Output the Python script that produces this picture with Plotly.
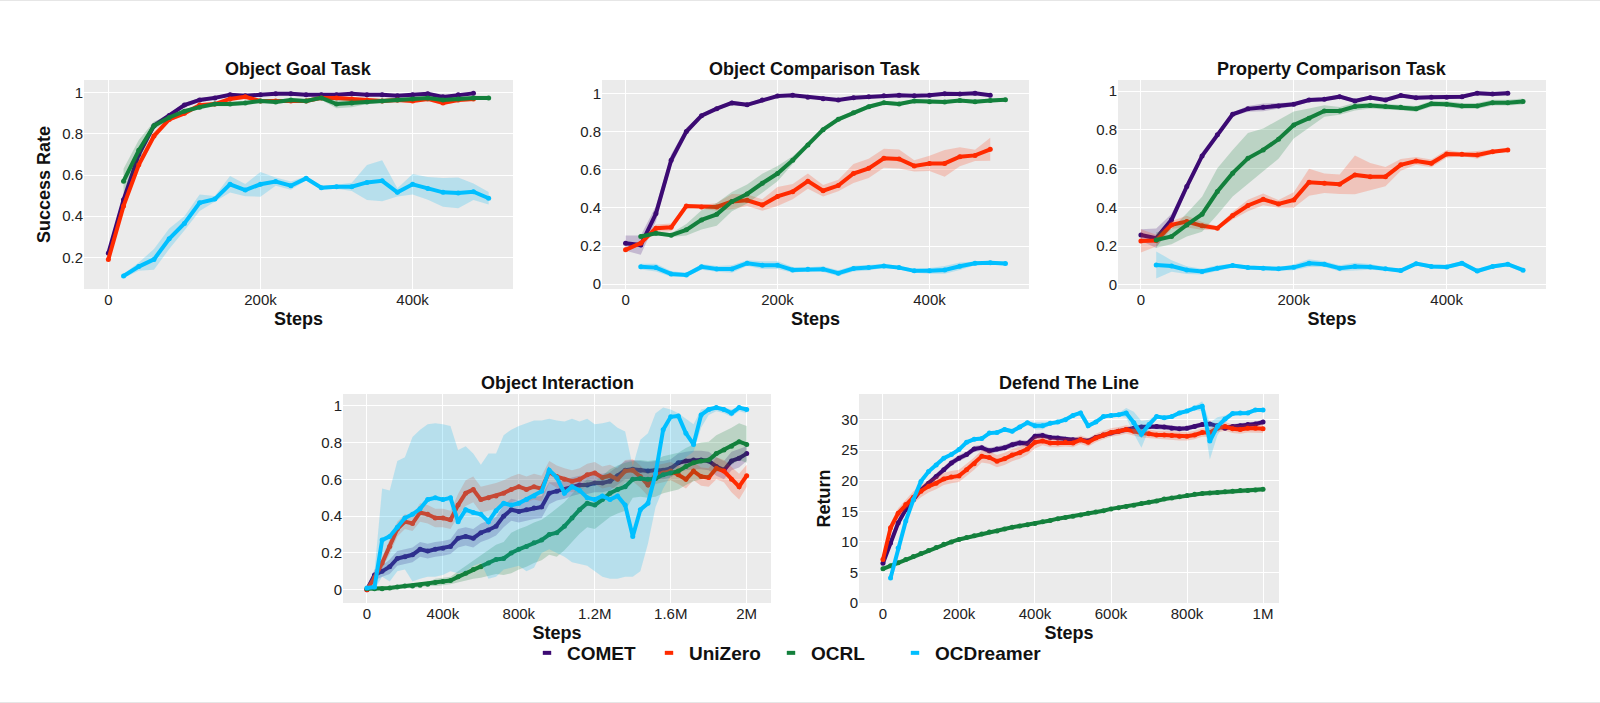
import plotly.graph_objects as go

# ---------------- data ----------------
SERIES = ["COMET", "UniZero", "OCRL", "OCDreamer"]
COLORS = {"COMET": "#3C0A73", "UniZero": "#FF2A00", "OCRL": "#13803C", "OCDreamer": "#00BFFF"}
FILLS = {"COMET": "rgba(60,10,115,0.22)", "UniZero": "rgba(255,60,20,0.22)",
         "OCRL": "rgba(19,128,60,0.22)", "OCDreamer": "rgba(0,180,240,0.22)"}

# top row: steps every 20k
steps_a = [0, 20000, 40000, 60000, 80000, 100000, 120000, 140000, 160000, 180000, 200000, 220000,
           240000, 260000, 280000, 300000, 320000, 340000, 360000, 380000, 400000, 420000, 440000,
           460000, 480000]
steps_b = [20000, 40000, 60000, 80000, 100000, 120000, 140000, 160000, 180000, 200000, 220000,
           240000, 260000, 280000, 300000, 320000, 340000, 360000, 380000, 400000, 420000, 440000,
           460000, 480000, 500000]

# Object Goal Task
og_comet = [0.22, 0.48, 0.70, 0.84, 0.89, 0.94, 0.965, 0.975, 0.99, 0.985, 0.99, 0.995, 0.995, 0.99, 0.99,
            0.99, 0.995, 0.99, 0.99, 0.985, 0.99, 0.995, 0.98, 0.99, 0.997]
og_comet_sd = [0.01, 0.02, 0.02, 0.015, 0.01, 0.01, 0.01, 0.01, 0.005, 0.005, 0.005, 0.005, 0.005, 0.005,
               0.005, 0.005, 0.005, 0.005, 0.005, 0.005, 0.005, 0.005, 0.005, 0.005, 0.005]
og_uni = [0.19, 0.45, 0.65, 0.79, 0.87, 0.90, 0.94, 0.945, 0.97, 0.98, 0.96, 0.96, 0.96, 0.96, 0.975,
          0.975, 0.97, 0.965, 0.96, 0.965, 0.96, 0.97, 0.95, 0.965, 0.97]
og_uni_sd = [0.01, 0.02, 0.02, 0.02, 0.01, 0.01, 0.01, 0.01, 0.01, 0.01, 0.01, 0.01, 0.01, 0.01, 0.01,
             0.01, 0.01, 0.01, 0.01, 0.01, 0.01, 0.01, 0.01, 0.01, 0.01]
og_ocrl = [0.57, 0.72, 0.84, 0.88, 0.91, 0.93, 0.945, 0.945, 0.95, 0.96, 0.955, 0.965, 0.96, 0.975, 0.945,
           0.95, 0.955, 0.96, 0.965, 0.97, 0.975, 0.965, 0.97, 0.975, 0.975]
og_ocrl_sd = [0.06, 0.05, 0.02, 0.01, 0.01, 0.01, 0.01, 0.01, 0.01, 0.01, 0.01, 0.01, 0.01, 0.01, 0.02,
              0.02, 0.01, 0.01, 0.01, 0.01, 0.01, 0.01, 0.01, 0.01, 0.01]
og_ocd = [0.109, 0.155, 0.19, 0.29, 0.365, 0.465, 0.483, 0.555, 0.527, 0.555, 0.568, 0.548, 0.584, 0.538,
          0.543, 0.543, 0.564, 0.572, 0.516, 0.555, 0.535, 0.516, 0.513, 0.519, 0.487]
og_ocd_sd = [0.01, 0.02, 0.05, 0.05, 0.035, 0.04, 0.015, 0.04, 0.03, 0.06, 0.02, 0.02, 0.01, 0.01, 0.01,
             0.02, 0.085, 0.10, 0.02, 0.05, 0.055, 0.07, 0.075, 0.04, 0.03]

# Object Comparison Task
oc_comet = [0.215, 0.205, 0.37, 0.65, 0.80, 0.883, 0.92, 0.95, 0.94, 0.965, 0.986, 0.99, 0.98, 0.972,
            0.965, 0.977, 0.982, 0.988, 0.99, 0.988, 0.99, 0.998, 0.996, 1.0, 0.99]
oc_comet_sd = [0.04, 0.05, 0.04, 0.03, 0.02, 0.01, 0.01, 0.01, 0.01, 0.01, 0.005, 0.005, 0.005, 0.005,
               0.005, 0.005, 0.005, 0.005, 0.005, 0.005, 0.005, 0.005, 0.005, 0.005, 0.005]
oc_uni = [0.18, 0.215, 0.293, 0.298, 0.41, 0.405, 0.405, 0.433, 0.44, 0.415, 0.46, 0.485, 0.54, 0.49,
          0.517, 0.58, 0.607, 0.66, 0.656, 0.62, 0.633, 0.633, 0.668, 0.675, 0.707]
oc_uni_sd = [0.01, 0.01, 0.02, 0.02, 0.01, 0.01, 0.02, 0.04, 0.03, 0.03, 0.05, 0.04, 0.04, 0.03, 0.03,
             0.05, 0.05, 0.05, 0.05, 0.03, 0.04, 0.07, 0.05, 0.03, 0.06]
oc_ocrl = [0.25, 0.267, 0.257, 0.285, 0.337, 0.366, 0.433, 0.473, 0.529, 0.58, 0.65, 0.73, 0.81, 0.864,
           0.899, 0.93, 0.951, 0.944, 0.96, 0.956, 0.955, 0.962, 0.956, 0.962, 0.967]
oc_ocrl_sd = [0.01, 0.01, 0.01, 0.03, 0.05, 0.06, 0.05, 0.05, 0.05, 0.04, 0.02, 0.01, 0.01, 0.01, 0.01,
              0.01, 0.01, 0.01, 0.01, 0.01, 0.01, 0.01, 0.01, 0.01, 0.01]
oc_ocd = [0.092, 0.087, 0.054, 0.049, 0.091, 0.08, 0.08, 0.11, 0.1, 0.1, 0.075, 0.079, 0.079, 0.058,
          0.082, 0.087, 0.096, 0.087, 0.07, 0.07, 0.075, 0.094, 0.11, 0.113, 0.108]
oc_ocd_sd = [0.015, 0.02, 0.015, 0.01, 0.015, 0.015, 0.02, 0.015, 0.02, 0.02, 0.015, 0.01, 0.015, 0.015,
             0.015, 0.015, 0.01, 0.01, 0.01, 0.015, 0.02, 0.02, 0.01, 0.01, 0.01]

# Property Comparison Task
pc_comet = [0.258, 0.241, 0.336, 0.508, 0.666, 0.775, 0.881, 0.909, 0.917, 0.924, 0.933, 0.955, 0.959,
            0.972, 0.95, 0.967, 0.955, 0.978, 0.967, 0.969, 0.969, 0.972, 0.99, 0.986, 0.99]
pc_comet_sd = [0.03, 0.05, 0.03, 0.02, 0.02, 0.015, 0.01, 0.015, 0.02, 0.015, 0.01, 0.01, 0.01, 0.01,
               0.01, 0.01, 0.01, 0.01, 0.01, 0.01, 0.01, 0.01, 0.01, 0.01, 0.01]
pc_uni = [0.227, 0.229, 0.31, 0.327, 0.305, 0.293, 0.358, 0.41, 0.442, 0.418, 0.439, 0.53, 0.525, 0.52,
          0.568, 0.559, 0.559, 0.62, 0.64, 0.628, 0.676, 0.675, 0.671, 0.688, 0.697]
pc_uni_sd = [0.06, 0.03, 0.02, 0.03, 0.02, 0.01, 0.02, 0.03, 0.03, 0.02, 0.04, 0.07, 0.05, 0.05, 0.1,
             0.07, 0.05, 0.03, 0.02, 0.02, 0.02, 0.01, 0.02, 0.01, 0.01]
pc_ocrl = [0.232, 0.25, 0.31, 0.365, 0.482, 0.577, 0.654, 0.697, 0.752, 0.826, 0.861, 0.898, 0.898, 0.921,
           0.926, 0.921, 0.917, 0.909, 0.935, 0.933, 0.924, 0.924, 0.941, 0.941, 0.947]
pc_ocrl_sd = [0.04, 0.04, 0.06, 0.09, 0.12, 0.12, 0.13, 0.11, 0.1, 0.07, 0.05, 0.03, 0.02, 0.02, 0.015,
              0.015, 0.015, 0.015, 0.015, 0.015, 0.015, 0.015, 0.015, 0.015, 0.015]
pc_ocd = [0.103, 0.098, 0.077, 0.069, 0.086, 0.1, 0.09, 0.086, 0.083, 0.091, 0.112, 0.107, 0.086, 0.095,
          0.093, 0.083, 0.074, 0.11, 0.095, 0.093, 0.112, 0.072, 0.095, 0.107, 0.076]
pc_ocd_sd = [0.07, 0.03, 0.02, 0.015, 0.015, 0.01, 0.01, 0.01, 0.01, 0.015, 0.02, 0.015, 0.015, 0.02,
             0.015, 0.01, 0.01, 0.01, 0.01, 0.01, 0.01, 0.01, 0.01, 0.01, 0.01]

# Object Interaction: steps every 40k up to 2M
steps_oi = [0, 40000, 80000, 120000, 160000, 200000, 240000, 280000, 320000, 360000, 400000, 440000,
            480000, 520000, 560000, 600000, 640000, 680000, 720000, 760000, 800000, 840000, 880000,
            920000, 960000, 1000000, 1040000, 1080000, 1120000, 1160000, 1200000, 1240000, 1280000,
            1320000, 1360000, 1400000, 1440000, 1480000, 1520000, 1560000, 1600000, 1640000, 1680000,
            1720000, 1760000, 1800000, 1840000, 1880000, 1920000, 1960000, 2000000]
oi_comet = [0.0, 0.08, 0.10, 0.125, 0.17, 0.18, 0.19, 0.22, 0.21, 0.22, 0.225, 0.235, 0.28, 0.29, 0.28,
            0.31, 0.325, 0.345, 0.40, 0.435, 0.425, 0.435, 0.445, 0.45, 0.525, 0.535, 0.545, 0.56, 0.57,
            0.57, 0.58, 0.58, 0.59, 0.62, 0.65, 0.655, 0.65, 0.645, 0.65, 0.65, 0.66, 0.69, 0.70, 0.705,
            0.705, 0.70, 0.67, 0.65, 0.70, 0.715, 0.74]
oi_comet_sd = [0.0, 0.03, 0.03, 0.04, 0.04, 0.04, 0.04, 0.04, 0.04, 0.04, 0.04, 0.04, 0.05, 0.05, 0.05,
               0.05, 0.05, 0.05, 0.06, 0.06, 0.06, 0.06, 0.06, 0.06, 0.06, 0.05, 0.05, 0.05, 0.05, 0.05,
               0.05, 0.05, 0.05, 0.05, 0.05, 0.05, 0.05, 0.05, 0.05, 0.05, 0.05, 0.05, 0.05, 0.05, 0.05,
               0.05, 0.05, 0.05, 0.05, 0.05, 0.04]
oi_uni = [0.0, 0.065, 0.145, 0.235, 0.33, 0.37, 0.36, 0.42, 0.41, 0.39, 0.39, 0.38, 0.46, 0.525, 0.545,
          0.49, 0.50, 0.51, 0.525, 0.545, 0.56, 0.545, 0.56, 0.55, 0.64, 0.615, 0.60, 0.59, 0.60, 0.625,
          0.635, 0.61, 0.62, 0.60, 0.645, 0.65, 0.615, 0.57, 0.625, 0.635, 0.645, 0.625, 0.60, 0.645,
          0.615, 0.61, 0.66, 0.645, 0.60, 0.56, 0.62]
oi_uni_sd = [0.0, 0.02, 0.03, 0.04, 0.04, 0.04, 0.04, 0.05, 0.05, 0.05, 0.05, 0.05, 0.06, 0.07, 0.07,
             0.07, 0.07, 0.07, 0.07, 0.07, 0.07, 0.07, 0.07, 0.07, 0.06, 0.06, 0.06, 0.06, 0.06, 0.06,
             0.06, 0.06, 0.06, 0.06, 0.06, 0.06, 0.06, 0.06, 0.05, 0.05, 0.05, 0.05, 0.05, 0.05, 0.05,
             0.05, 0.06, 0.06, 0.07, 0.07, 0.06]
oi_ocrl = [0.005, 0.005, 0.005, 0.01, 0.015, 0.02, 0.02, 0.025, 0.03, 0.04, 0.045, 0.05, 0.07, 0.09, 0.11,
           0.125, 0.145, 0.165, 0.17, 0.20, 0.22, 0.235, 0.255, 0.27, 0.30, 0.31, 0.345, 0.39, 0.435,
           0.47, 0.46, 0.49, 0.525, 0.545, 0.56, 0.60, 0.605, 0.60, 0.605, 0.625, 0.635, 0.645, 0.67,
           0.69, 0.70, 0.705, 0.74, 0.76, 0.78, 0.805, 0.79]
oi_ocrl_sd = [0.01, 0.01, 0.01, 0.01, 0.01, 0.01, 0.01, 0.01, 0.01, 0.02, 0.02, 0.02, 0.03, 0.04, 0.05,
              0.06, 0.07, 0.08, 0.09, 0.11, 0.11, 0.11, 0.11, 0.11, 0.11, 0.13, 0.13, 0.13, 0.13, 0.13,
              0.13, 0.13, 0.13, 0.13, 0.13, 0.10, 0.10, 0.10, 0.10, 0.10, 0.10, 0.10, 0.10, 0.10, 0.10,
              0.10, 0.10, 0.10, 0.10, 0.10, 0.10]
oi_ocd = [0.01, 0.015, 0.27, 0.29, 0.34, 0.39, 0.41, 0.44, 0.49, 0.50, 0.49, 0.50, 0.37, 0.435, 0.42, 0.41,
          0.37, 0.43, 0.47, 0.46, 0.47, 0.49, 0.51, 0.535, 0.65, 0.61, 0.525, 0.56, 0.54, 0.50, 0.49, 0.51,
          0.49, 0.51, 0.46, 0.29, 0.435, 0.47, 0.63, 0.87, 0.94, 0.945, 0.85, 0.79, 0.95, 0.98, 0.99,
          0.98, 0.96, 0.99, 0.98]
oi_ocd_hi = [0.02, 0.10, 0.55, 0.54, 0.70, 0.72, 0.83, 0.87, 0.90, 0.905, 0.90, 0.89, 0.76, 0.78, 0.74,
             0.68, 0.74, 0.74, 0.84, 0.87, 0.89, 0.905, 0.92, 0.92, 0.93, 0.92, 0.915, 0.93, 0.915, 0.93,
             0.90, 0.905, 0.915, 0.88, 0.86, 0.67, 0.815, 0.85, 0.96, 0.99, 0.98, 0.96, 0.93, 0.90, 0.98,
             0.99, 0.995, 0.99, 0.98, 0.995, 0.99]
oi_ocd_lo = [0.0, 0.0, 0.07, 0.045, 0.10, 0.11, 0.045, 0.06, 0.07, 0.07, 0.08, 0.10, 0.09, 0.10, 0.13,
             0.145, 0.06, 0.07, 0.11, 0.12, 0.13, 0.10, 0.12, 0.20, 0.22, 0.20, 0.18, 0.15, 0.14, 0.13,
             0.10, 0.07, 0.06, 0.06, 0.07, 0.07, 0.10, 0.25, 0.45, 0.55, 0.62, 0.68, 0.72, 0.75, 0.88,
             0.95, 0.97, 0.96, 0.94, 0.97, 0.96]

# Defend The Line: steps every 20k up to 1M
steps_dl = [0, 20000, 40000, 60000, 80000, 100000, 120000, 140000, 160000, 180000, 200000, 220000,
            240000, 260000, 280000, 300000, 320000, 340000, 360000, 380000, 400000, 420000, 440000,
            460000, 480000, 500000, 520000, 540000, 560000, 580000, 600000, 620000, 640000, 660000,
            680000, 700000, 720000, 740000, 760000, 780000, 800000, 820000, 840000, 860000, 880000,
            900000, 920000, 940000, 960000, 980000, 1000000]
steps_dl_ocd = steps_dl[1:]
dl_comet = [6.5, 9.8, 13.1, 15.3, 16.9, 18.5, 19.6, 20.7, 21.8, 22.9, 23.7, 24.3, 25.2, 25.4, 24.9, 25.2,
            25.4, 25.9, 26.2, 26.1, 27.3, 27.4, 27.1, 27.0, 26.8, 26.7, 26.7, 26.5, 27.1, 27.5, 27.8, 28.1,
            28.4, 28.6, 28.8, 28.9, 28.9, 28.8, 28.6, 28.5, 28.6, 28.9, 29.2, 29.3, 29.0, 28.6, 28.9, 29.0,
            29.2, 29.3, 29.6]
dl_comet_sd = [0.5, 0.6, 0.6, 0.6, 0.5, 0.5, 0.5, 0.5, 0.5, 0.5, 0.5, 0.5, 0.5, 0.5, 0.5, 0.5, 0.5, 0.5,
               0.5, 0.5, 0.5, 0.5, 0.4, 0.4, 0.4, 0.4, 0.4, 0.4, 0.4, 0.4, 0.4, 0.4, 0.4, 0.4, 0.4, 0.4,
               0.4, 0.4, 0.4, 0.4, 0.4, 0.4, 0.4, 0.4, 0.4, 0.4, 0.4, 0.4, 0.4, 0.4, 0.4]
dl_uni = [7.1, 12.3, 14.7, 16.1, 17.3, 18.3, 19.1, 19.6, 20.3, 20.6, 20.8, 21.8, 22.8, 24.0, 23.8, 23.2,
          23.6, 24.2, 24.6, 25.2, 26.3, 26.5, 26.2, 26.2, 26.3, 26.2, 26.7, 26.3, 27.0, 27.5, 27.9, 28.1,
          28.4, 28.1, 27.8, 27.7, 27.5, 27.5, 27.4, 27.3, 27.3, 27.5, 27.9, 27.9, 28.6, 28.9, 28.5, 28.4,
          28.6, 28.6, 28.5]
dl_uni_sd = [0.5, 0.8, 0.8, 0.8, 1.0, 1.0, 1.0, 1.0, 1.0, 1.0, 1.0, 1.0, 1.0, 1.0, 1.0, 1.0, 1.0, 1.0, 1.0,
             1.0, 1.0, 0.7, 0.7, 0.7, 0.7, 0.7, 0.7, 0.7, 0.7, 0.7, 0.7, 0.7, 0.7, 0.7, 0.7, 0.7, 0.7,
             0.7, 0.7, 0.7, 0.7, 0.7, 0.7, 0.7, 0.7, 0.7, 0.7, 0.7, 0.7, 0.7, 0.7]
dl_ocrl = [5.6, 6.1, 6.6, 7.1, 7.6, 8.1, 8.6, 9.1, 9.6, 10.0, 10.4, 10.7, 11.0, 11.3, 11.6, 11.8, 12.1,
           12.4, 12.6, 12.8, 13.0, 13.3, 13.5, 13.8, 14.0, 14.2, 14.4, 14.7, 14.9, 15.1, 15.4, 15.6, 15.8,
           16.0, 16.3, 16.5, 16.7, 17.0, 17.2, 17.4, 17.6, 17.8, 17.9, 18.0, 18.1, 18.2, 18.3, 18.4, 18.4,
           18.5, 18.6]
dl_ocrl_sd = [0.2, 0.2, 0.2, 0.2, 0.2, 0.2, 0.2, 0.2, 0.2, 0.2, 0.2, 0.2, 0.2, 0.2, 0.2, 0.2, 0.2, 0.2,
              0.2, 0.2, 0.2, 0.2, 0.2, 0.2, 0.2, 0.2, 0.2, 0.2, 0.2, 0.2, 0.2, 0.2, 0.2, 0.2, 0.2, 0.3,
              0.3, 0.3, 0.3, 0.3, 0.3, 0.3, 0.4, 0.4, 0.4, 0.4, 0.4, 0.4, 0.4, 0.4, 0.4]
dl_ocd = [4.1, 9.0, 13.4, 16.9, 19.9, 21.5, 22.6, 23.7, 24.3, 25.1, 26.3, 26.8, 26.9, 27.8, 27.9, 28.4,
          28.1, 28.8, 29.5, 29.0, 29.0, 29.4, 29.6, 30.0, 30.7, 31.1, 29.0, 29.6, 30.5, 30.7, 30.8, 31.1,
          29.5, 27.6, 29.2, 30.5, 30.3, 30.5, 31.1, 31.4, 31.9, 32.2, 26.5, 28.9, 30.1, 31.0, 31.1, 31.1,
          31.6, 31.6]
dl_ocd_sd = [0.2, 0.3, 0.4, 0.4, 0.3, 0.3, 0.3, 0.3, 0.3, 0.3, 0.3, 0.3, 0.3, 0.3, 0.3, 0.3, 0.3, 0.3,
             0.3, 0.6, 0.6, 0.3, 0.3, 0.3, 0.3, 0.3, 0.3, 0.3, 0.3, 0.3, 0.3, 0.8, 1.8, 2.2, 0.8, 0.3,
             0.3, 0.3, 0.3, 0.3, 0.3, 0.8, 3.0, 1.5, 0.6, 0.3, 0.3, 0.3, 0.3, 0.3]

PANELS = [
    dict(title="Object Goal Task", ytitle="Success Rate",
         data=[(steps_a, og_comet, og_comet_sd), (steps_a, og_uni, og_uni_sd),
               (steps_b, og_ocrl, og_ocrl_sd), (steps_b, og_ocd, og_ocd_sd)],
         xr=[-32000, 532000], yr=[0.046, 1.062],
         xt=[0, 200000, 400000], xl=["0", "200k", "400k"],
         yt=[0.2, 0.4, 0.6, 0.8, 1], yl=["0.2", "0.4", "0.6", "0.8", "1"],
         box=(84, 80, 513, 289)),
    dict(title="Object Comparison Task", ytitle=None,
         data=[(steps_a, oc_comet, oc_comet_sd), (steps_a, oc_uni, oc_uni_sd),
               (steps_b, oc_ocrl, oc_ocrl_sd), (steps_b, oc_ocd, oc_ocd_sd)],
         xr=[-31000, 531000], yr=[-0.025, 1.07],
         xt=[0, 200000, 400000], xl=["0", "200k", "400k"],
         yt=[0, 0.2, 0.4, 0.6, 0.8, 1], yl=["0", "0.2", "0.4", "0.6", "0.8", "1"],
         box=(602, 80, 1029, 289)),
    dict(title="Property Comparison Task", ytitle=None,
         data=[(steps_a, pc_comet, pc_comet_sd), (steps_a, pc_uni, pc_uni_sd),
               (steps_b, pc_ocrl, pc_ocrl_sd), (steps_b, pc_ocd, pc_ocd_sd)],
         xr=[-30000, 530000], yr=[-0.021, 1.058],
         xt=[0, 200000, 400000], xl=["0", "200k", "400k"],
         yt=[0, 0.2, 0.4, 0.6, 0.8, 1], yl=["0", "0.2", "0.4", "0.6", "0.8", "1"],
         box=(1118, 80, 1546, 289)),
    dict(title="Object Interaction", ytitle=None,
         data=[(steps_oi, oi_comet, oi_comet_sd), (steps_oi, oi_uni, oi_uni_sd),
               (steps_oi, oi_ocrl, oi_ocrl_sd), (steps_oi, oi_ocd, (oi_ocd_lo, oi_ocd_hi))],
         xr=[-126000, 2128000], yr=[-0.072, 1.064],
         xt=[0, 400000, 800000, 1200000, 1600000, 2000000], xl=["0", "400k", "800k", "1.2M", "1.6M", "2M"],
         yt=[0, 0.2, 0.4, 0.6, 0.8, 1], yl=["0", "0.2", "0.4", "0.6", "0.8", "1"],
         box=(343, 394, 771, 603)),
    dict(title="Defend The Line", ytitle="Return",
         data=[(steps_dl, dl_comet, dl_comet_sd), (steps_dl, dl_uni, dl_uni_sd),
               (steps_dl, dl_ocrl, dl_ocrl_sd), (steps_dl_ocd, dl_ocd, dl_ocd_sd)],
         xr=[-63000, 1042000], yr=[0, 34.2],
         xt=[0, 200000, 400000, 600000, 800000, 1000000], xl=["0", "200k", "400k", "600k", "800k", "1M"],
         yt=[0, 5, 10, 15, 20, 25, 30], yl=["0", "5", "10", "15", "20", "25", "30"],
         box=(859, 394, 1279, 603)),
]

# legend text left edges (px) and vertical centre
LEGEND_TEXT_X = [567, 689, 811, 935]
LEGEND_Y = 653

# ---------------- figure ----------------
W, H = 1600, 703
FONT = "Liberation Sans, Arial, sans-serif"
fig = go.Figure()
layout = dict(width=W, height=H, margin=dict(l=0, r=0, t=0, b=0, autoexpand=False),
              paper_bgcolor="white", plot_bgcolor="#EBEBEB",
              font=dict(family=FONT, color="#111"), showlegend=True, annotations=[],
              shapes=[dict(type="line", xref="paper", yref="paper", x0=0, x1=1, y0=1 - 0.5 / H, y1=1 - 0.5 / H,
                           line=dict(color="#E6E6E6", width=1)),
                      dict(type="line", xref="paper", yref="paper", x0=0, x1=1, y0=0.5 / H, y1=0.5 / H,
                           line=dict(color="#E6E6E6", width=1))])

for i, p in enumerate(PANELS, start=1):
    xa = "x" if i == 1 else f"x{i}"
    ya = "y" if i == 1 else f"y{i}"
    for name, (xs, ys, sd) in zip(SERIES, p["data"]):
        if isinstance(sd, tuple):
            lo, hi = sd
        else:
            lo = [v - s for v, s in zip(ys, sd)]
            hi = [v + s for v, s in zip(ys, sd)]
        fig.add_trace(go.Scatter(x=list(xs) + list(xs)[::-1], y=hi + lo[::-1], fill="toself",
                                 fillcolor=FILLS[name], line=dict(width=0), mode="lines",
                                 hoverinfo="skip", showlegend=False, xaxis=xa, yaxis=ya))
        fig.add_trace(go.Scatter(x=xs, y=ys, mode="lines+markers", name=name,
                                 line=dict(color=COLORS[name], width=4),
                                 marker=dict(color=COLORS[name], size=5),
                                 showlegend=False, xaxis=xa, yaxis=ya))
    x0, y0, x1, y1 = p["box"]
    axcommon = dict(showgrid=True, gridcolor="white", gridwidth=1, zeroline=False, showline=False,
                    ticks="", automargin=False, tickfont=dict(size=15, color="#222", family=FONT))
    xkey = "xaxis" if i == 1 else f"xaxis{i}"
    ykey = "yaxis" if i == 1 else f"yaxis{i}"
    layout[xkey] = dict(axcommon, domain=[x0 / W, x1 / W], range=p["xr"], tickvals=p["xt"],
                        ticktext=p["xl"], anchor=ya,
                        title=dict(text="<b>Steps</b>", font=dict(size=18, family=FONT), standoff=5))
    ydict = dict(axcommon, domain=[1 - y1 / H, 1 - y0 / H], range=p["yr"], tickvals=p["yt"],
                 ticktext=p["yl"], anchor=xa)
    if p["ytitle"]:
        ydict["title"] = dict(text=f"<b>{p['ytitle']}</b>", font=dict(size=18, family=FONT), standoff=6)
    layout[ykey] = ydict
    layout["annotations"].append(dict(text=f"<b>{p['title']}</b>", x=(x0 + x1) / 2 / W,
                                      y=1 - (y0 - 11) / H, xref="paper", yref="paper",
                                      showarrow=False, font=dict(size=18, family=FONT, color="#111"),
                                      xanchor="center", yanchor="middle"))

# legend entries: one small legend per series, placed along one row
for k, name in enumerate(SERIES):
    lkey = "legend" if k == 0 else f"legend{k + 1}"
    fig.add_trace(go.Scatter(x=[None], y=[None], mode="markers", name=name, legend=lkey,
                             marker=dict(symbol="line-ew", size=6, color=COLORS[name],
                                         line=dict(color=COLORS[name], width=4))))
    layout[lkey] = dict(orientation="h", x=(LEGEND_TEXT_X[k] - 40) / W, xanchor="left",
                        y=1 - LEGEND_Y / H, yanchor="middle",
                        font=dict(size=19, family=FONT, color="#111", weight="bold"),
                        bgcolor="rgba(0,0,0,0)", borderwidth=0)
fig.update_layout(**layout)
fig.write_html("out.html")
